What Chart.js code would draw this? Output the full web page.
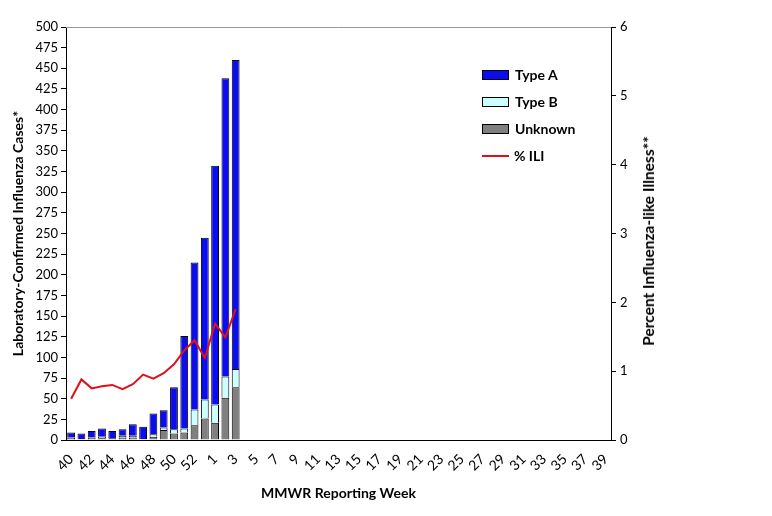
<!DOCTYPE html>
<html>
<head>
<meta charset="utf-8">
<script src="https://cdn.jsdelivr.net/npm/chart.js@4/dist/chart.umd.min.js"></script>
<style>
  html, body { margin: 0; padding: 0; background: #fff; }
  #wrap { position: relative; width: 772px; height: 516px; }
  #legend { position: absolute; left: 482px; top: 61px; font-family: Lato, "Open Sans", sans-serif;
            font-weight: bold; font-size: 14px; color: #000; }
  .item { height: 27px; display: flex; align-items: center; }
  .box { width: 25px; height: 8px; border: 1px solid #000; margin-right: 6px; }
  .ln { width: 27px; height: 2px; margin-right: 5px; }
  #rightTitle { position: absolute; left: 648px; top: 241px; white-space: nowrap;
                transform: translate(-50%, -50%) rotate(-90deg);
                font-family: Lato, "Open Sans", sans-serif; font-weight: bold; font-size: 15.5px; color: #000; }
</style>
</head>
<body>
<div id="wrap">
  <canvas id="fluChart" width="772" height="516"></canvas>
  <div id="legend"></div>
  <div id="rightTitle">Percent Influenza-like Illness**</div>
</div>
<script>
// MMWR weeks 40..53 then 1..39
var weekLabels = ['40','41','42','43','44','45','46','47','48','49','50','51','52','53',
  '1','2','3','4','5','6','7','8','9','10','11','12','13','14','15','16','17','18','19','20',
  '21','22','23','24','25','26','27','28','29','30','31','32','33','34','35','36','37','38','39'];

// cases per week (weeks 40 - 3 reported so far)
var typeA   = [6, 7, 8, 10, 9, 8, 14, 15, 25, 21, 51, 112, 178, 196, 289, 361, 374];
var typeB   = [0, 0, 0, 2, 0, 2, 2, 0, 3, 3, 5, 5, 19, 23, 22, 26, 22];
var unknown = [3, 1, 3, 2, 2, 3, 3, 1, 4, 12, 8, 9, 18, 26, 21, 51, 64];
var pctILI  = [0.60, 0.88, 0.75, 0.78, 0.80, 0.74, 0.81, 0.95, 0.89, 0.97, 1.10, 1.30, 1.45, 1.19, 1.69, 1.49, 1.90];

var colA = '#0c0cf0', colB = '#ccffff', colU = '#808080', colLine = '#e0101b';
var fontFam = 'Lato, "Open Sans", sans-serif';

Chart.defaults.font.family = fontFam;
Chart.defaults.color = '#000';

// thin grey line on top of the plot area
var topLine = {
  id: 'topLine',
  afterDraw: function (chart) {
    var a = chart.chartArea, c = chart.ctx;
    c.save();
    c.strokeStyle = '#999';
    c.lineWidth = 1;
    c.beginPath();
    c.moveTo(a.left, a.top + 0.5);
    c.lineTo(a.right, a.top + 0.5);
    c.stroke();
    c.restore();
  }
};

var ctx = document.getElementById('fluChart').getContext('2d');
var fluChart = new Chart(ctx, {
  type: 'bar',
  plugins: [topLine],
  data: {
    labels: weekLabels,
    datasets: [
      { label: '% ILI', type: 'line', data: pctILI, yAxisID: 'y1', borderColor: colLine,
        backgroundColor: colLine, borderWidth: 2, pointRadius: 0, tension: 0, order: 0 },
      { label: 'Unknown', data: unknown, backgroundColor: colU, borderColor: '#000', borderWidth: 1, yAxisID: 'y', order: 1 },
      { label: 'Type B', data: typeB, backgroundColor: colB, borderColor: '#000', borderWidth: 1, yAxisID: 'y', order: 1 },
      { label: 'Type A', data: typeA, backgroundColor: colA, borderColor: '#000', borderWidth: 1, yAxisID: 'y', order: 1 }
    ]
  },
  options: {
    responsive: false,
    animation: false,
    layout: { padding: { top: 27, left: 8, right: 113, bottom: 10 } },
    plugins: { legend: { display: false }, tooltip: { enabled: false } },
    datasets: { bar: { categoryPercentage: 1.0, barPercentage: 0.76 } },
    scales: {
      x: {
        stacked: true,
        grid: { display: false },
        border: { color: '#000', width: 1 },
        ticks: {
          autoSkip: false, maxRotation: 45, minRotation: 45,
          font: { size: 14 },
          callback: function (v, i) { return i % 2 === 0 ? this.getLabelForValue(v) : ''; }
        },
        title: { display: true, text: 'MMWR Reporting Week', font: { size: 14, weight: 'bold' } },
        afterFit: function (s) { s.height = 66; }
      },
      y: {
        stacked: true, min: 0, max: 500,
        grid: { drawOnChartArea: false, color: '#000', tickLength: 5 },
        border: { color: '#000', width: 1 },
        ticks: { stepSize: 25, font: { size: 13 }, padding: 3 },
        title: { display: true, text: 'Laboratory-Confirmed Influenza Cases*', font: { size: 14, weight: 'bold' }, padding: 2 },
        afterFit: function (s) { s.width = 58; }
      },
      y1: {
        position: 'right', min: 0, max: 6,
        grid: { drawOnChartArea: false, color: '#000', tickLength: 5 },
        border: { color: '#000', width: 1 },
        ticks: { stepSize: 1, font: { size: 13 }, padding: 4 },
        afterFit: function (s) { s.width = 48; }
      }
    }
  }
});

// legend in the same order as the reference
var legendItems = [
  { text: 'Type A', color: colA, kind: 'box' },
  { text: 'Type B', color: colB, kind: 'box' },
  { text: 'Unknown', color: colU, kind: 'box' },
  { text: '% ILI', color: colLine, kind: 'line' }
];
var lg = document.getElementById('legend');
legendItems.forEach(function (it) {
  var row = document.createElement('div');
  row.className = 'item';
  var sw = document.createElement('span');
  sw.className = it.kind === 'box' ? 'box' : 'ln';
  sw.style.background = it.color;
  var tx = document.createElement('span');
  tx.textContent = it.text;
  row.appendChild(sw);
  row.appendChild(tx);
  lg.appendChild(row);
});
</script>
</body>
</html>
